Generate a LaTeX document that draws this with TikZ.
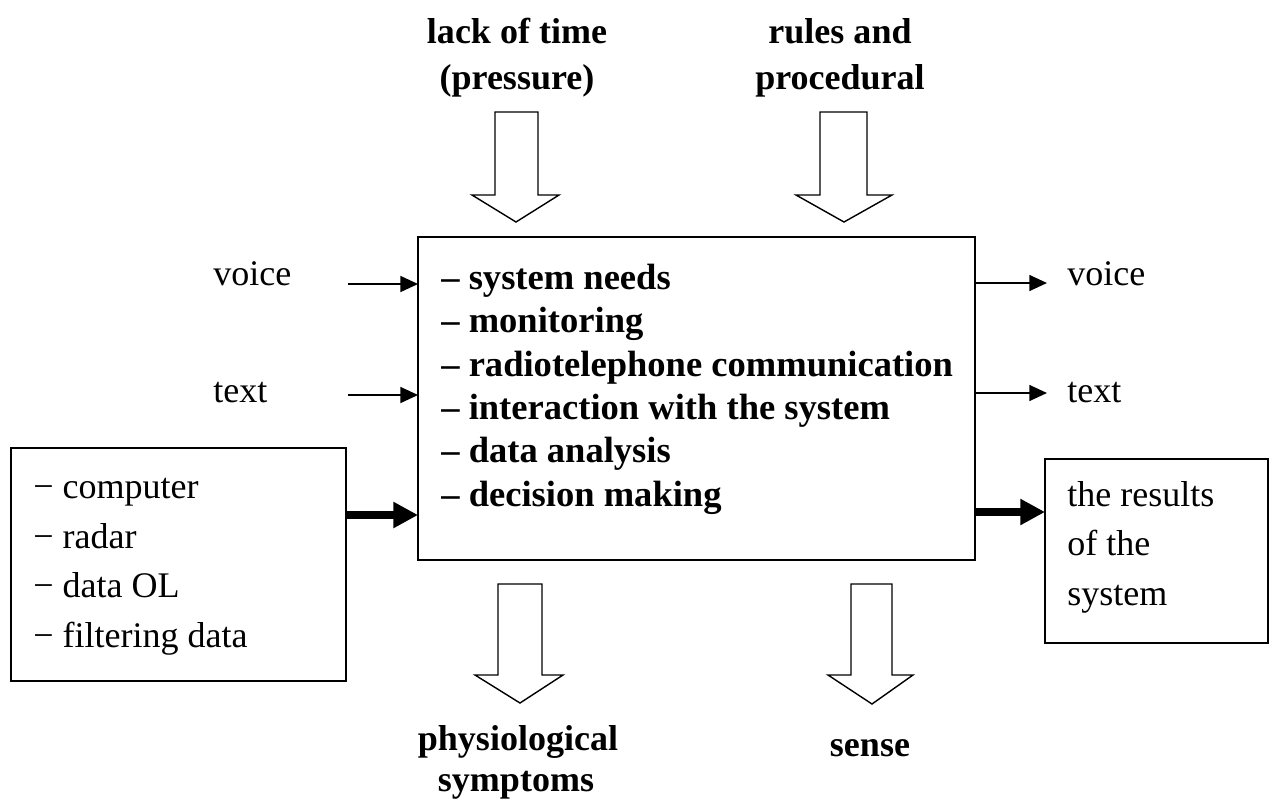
\documentclass[tikz,border=0pt]{standalone}
\usepackage{fontspec}
\setmainfont{Liberation Serif}
\usetikzlibrary{arrows.meta}
\newcommand\rfnt{\fontsize{20.5pt}{24pt}\selectfont}
\newcommand\bfnt{\fontsize{20.5pt}{24pt}\selectfont\bfseries}
\newcommand\ifnt{\fontsize{20.8pt}{24pt}\selectfont\bfseries}
\begin{document}
\begin{tikzpicture}[x=0.02cm,y=-0.02cm,
  box/.style={draw, line width=1.2pt, inner sep=0pt, outer sep=0pt},
  hollow/.style={draw, line width=0.8pt, line join=miter, fill=white},
  thinarrow/.style={line width=1pt, -{Triangle[length=10pt,width=9pt]}},
  thickarrow/.style={line width=4.5pt, -{Triangle[length=14pt,width=14pt]}},
  item/.style={anchor=base west, inner sep=0pt, font=\ifnt},
  blabel/.style={anchor=base, inner sep=0pt, font=\bfnt},
  rtext/.style={anchor=base west, inner sep=0pt, font=\rfnt}]
\useasboundingbox[fill=white] (0,0) rectangle (1272,799);

% boxes
\node[box, minimum width=11.14cm, minimum height=6.46cm] (main) at (696.5,398.5) {};
\node[box, minimum width=6.7cm, minimum height=4.66cm] (lbox) at (178.5,564.5) {};
\node[box, minimum width=4.46cm, minimum height=3.68cm] (rbox) at (1156.5,551) {};

% items in the main box
\node[item] (i1) at (441,289) {– system needs};
\node[item] (i2) at (441,332) {– monitoring};
\node[item] (i3) at (441,376) {– radiotelephone communication};
\node[item] (i4) at (441,419) {– interaction with the system};
\node[item] (i5) at (441,462) {– data analysis};
\node[item] (i6) at (441,506) {– decision making};

% left box
\node[rtext] (l1) at (33,498) {− computer};
\node[rtext] (l2) at (33,548) {− radar};
\node[rtext] (l3) at (33,597) {− data OL};
\node[rtext] (l4) at (33,647) {− filtering data};

% right box
\node[rtext] (r1) at (1067,506) {the results};
\node[rtext] (r2) at (1067,555) {of the};
\node[rtext] (r3) at (1067,605) {system};

% side labels
\node[rtext] (vl) at (213,285) {voice};
\node[rtext] (xl) at (213,402) {text};
\node[rtext] (vr) at (1067,285) {voice};
\node[rtext] (xr) at (1067,402) {text};

% top and bottom labels
\node[blabel] (t1a) at (517,43) {lack of time};
\node[blabel] (t1b) at (517,89) {(pressure)};
\node[blabel] (t2a) at (840,43) {rules and};
\node[blabel] (t2b) at (840,89) {procedural};
\node[blabel] (b1a) at (518,750) {physiological};
\node[blabel] (b1b) at (516,791) {symptoms};
\node[blabel] (b2) at (870,756) {sense};

% hollow block arrows
\draw[hollow] (495,112) -- (538,112) -- (538,195) -- (559,195) -- (516,222) -- (472,195) -- (495,195) -- cycle;
\draw[hollow] (820,112) -- (867,112) -- (867,195) -- (892,195) -- (844,222) -- (796,195) -- (820,195) -- cycle;
\draw[hollow] (498,584) -- (542,584) -- (542,675) -- (563,675) -- (520,703) -- (475,675) -- (498,675) -- cycle;
\draw[hollow] (851,584) -- (892,584) -- (892,675) -- (913,675) -- (872,704) -- (828,675) -- (851,675) -- cycle;

% connectors
\coordinate (vin) at (348,284);
\coordinate (tin) at (348,395);
\coordinate (kin) at (0,515);
\draw[thinarrow] (vin) -- (vin -| main.west);
\draw[thinarrow] (tin) -- (tin -| main.west);
\draw[thickarrow] (lbox.east |- kin) -- (main.west |- kin);
\coordinate (vout) at (1047,283);
\coordinate (tout) at (1047,393);
\coordinate (kout) at (0,512);
\draw[thinarrow] (main.east |- vout) -- (vout);
\draw[thinarrow] (main.east |- tout) -- (tout);
\draw[thickarrow] (main.east |- kout) -- (rbox.west |- kout);
\end{tikzpicture}
\end{document}
